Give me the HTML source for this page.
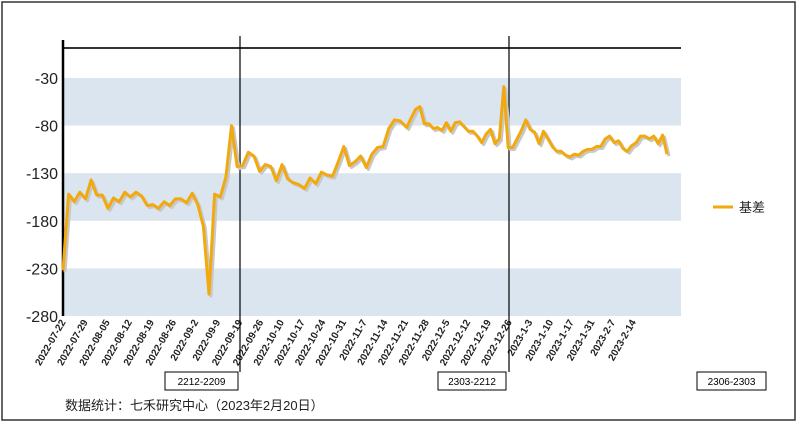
<!DOCTYPE html>
<html><head><meta charset="utf-8"><style>
body{margin:0;background:#fff}
svg{display:block;font-family:"Liberation Sans","Noto Sans CJK SC",sans-serif}
</style></head><body>
<svg id="chart" width="797" height="423" xmlns="http://www.w3.org/2000/svg">
<rect x="2" y="2" width="793" height="418" fill="#fff" stroke="#333" stroke-width="1.5"/>
<g id="bands"></g><g id="yticks"></g><g id="xticks"></g>
<line x1="63" y1="48" x2="681" y2="48" stroke="#333" stroke-width="2"/>
<line x1="63" y1="40" x2="63" y2="316" stroke="#000" stroke-width="2.5"/>
<line x1="240" y1="36" x2="240" y2="372" stroke="#000" stroke-width="1.2"/>
<line x1="509" y1="36" x2="509" y2="372" stroke="#000" stroke-width="1.2"/>
<polyline id="shadow" fill="none" stroke="#c8c8c8" stroke-width="3" stroke-linejoin="round"/>
<polyline id="line" fill="none" stroke="#f2a90f" stroke-width="3" stroke-linejoin="round"/>
<g>
<line x1="713" y1="207" x2="733" y2="207" stroke="#f2a90f" stroke-width="3"/>
<text x="739" y="212" font-size="13" fill="#222">基差</text>
</g>
<g><rect x="165" y="372" width="73" height="18" fill="#fff" stroke="#000"/><text x="201.5" y="385" font-size="10" text-anchor="middle">2212-2209</text></g>
<g><rect x="438" y="372" width="68" height="18" fill="#fff" stroke="#000"/><text x="472" y="385" font-size="10" text-anchor="middle">2303-2212</text></g>
<g><rect x="697" y="372" width="69" height="18" fill="#fff" stroke="#000"/><text x="731.5" y="385" font-size="10" text-anchor="middle">2306-2303</text></g>
<text x="65" y="410" font-size="13" fill="#222">数据统计：七禾研究中心（2023年2月20日）</text>
</svg>
<script>
const yTicks=[-30,-80,-130,-180,-230,-280];
const xLabels=["2022-07-22","2022-07-29","2022-08-05","2022-08-12","2022-08-19","2022-08-26","2022-09-2","2022-09-9","2022-09-19","2022-09-26","2022-10-10","2022-10-17","2022-10-24","2022-10-31","2022-11-7","2022-11-14","2022-11-21","2022-11-28","2022-12-5","2022-12-12","2022-12-19","2022-12-26","2023-1-3","2023-1-10","2023-1-17","2023-1-31","2023-2-7","2023-2-14"];
const values=[-232,-152,-160,-150,-157,-137,-153,-153,-167,-156,-160,-150,-155,-150,-154,-164,-163,-167,-160,-164,-157,-157,-161,-151,-163,-186,-257,-152,-155,-134,-80,-123,-122,-108,-112,-128,-121,-123,-138,-121,-136,-140,-142,-146,-135,-141,-129,-132,-133,-118,-102,-122,-118,-112,-124,-110,-103,-102,-83,-74,-75,-82,-72,-63,-60,-78,-78,-83,-82,-85,-77,-86,-77,-76,-81,-86,-86,-91,-98,-89,-84,-99,-94,-39,-103,-103,-94,-85,-74,-84,-87,-99,-86,-94,-102,-107,-107,-111,-113,-110,-111,-107,-105,-105,-102,-102,-94,-91,-98,-96,-104,-107,-101,-98,-91,-91,-94,-91,-99,-90,-110];
const NS="http://www.w3.org/2000/svg";
const y=v=>78+(-30-v)*(238/250);
const n=values.length;
const x=i=>i<=60?63+i*(337/60):406.7+(i-61)*((667-406.7)/(n-62));
const lx=i=>i<=8?63+i*22.1:240+(i-8)*20.7;
const bands=document.getElementById('bands'),yt=document.getElementById('yticks'),xt=document.getElementById('xticks');
for(let k=0;k<yTicks.length;k+=2){
 const r=document.createElementNS(NS,'rect');
 r.setAttribute('x',63);r.setAttribute('y',y(yTicks[k]));r.setAttribute('width',618);
 r.setAttribute('height',y(yTicks[k+1])-y(yTicks[k]));r.setAttribute('fill','#dae5f0');
 
 
 bands.appendChild(r);
}
yTicks.forEach(v=>{
 const t=document.createElementNS(NS,'text');
 t.setAttribute('x',58);t.setAttribute('y',y(v)+6);t.setAttribute('text-anchor','end');
 t.setAttribute('font-size','16');t.setAttribute('fill','#222');t.textContent=v;
 
 
 yt.appendChild(t);
});
xLabels.forEach((s,i)=>{
 const t=document.createElementNS(NS,'text');
 const px=lx(i)+3,py=322;
 t.setAttribute('x',px);t.setAttribute('y',py);t.setAttribute('text-anchor','end');
 t.setAttribute('font-size','10');t.setAttribute('font-weight','bold');t.setAttribute('fill','#222');
 t.setAttribute('transform','rotate(-60 '+px+' '+py+')');t.textContent=s;
 
 
 xt.appendChild(t);
});
const pts=values.map((v,i)=>x(i).toFixed(1)+','+y(v).toFixed(1)).join(' ');
const spts=values.map((v,i)=>(x(i)+2).toFixed(1)+','+(y(v)+2).toFixed(1)).join(' ');
document.getElementById('line').setAttribute('points',pts);
document.getElementById('shadow').setAttribute('points',spts);
</script>
</body></html>
